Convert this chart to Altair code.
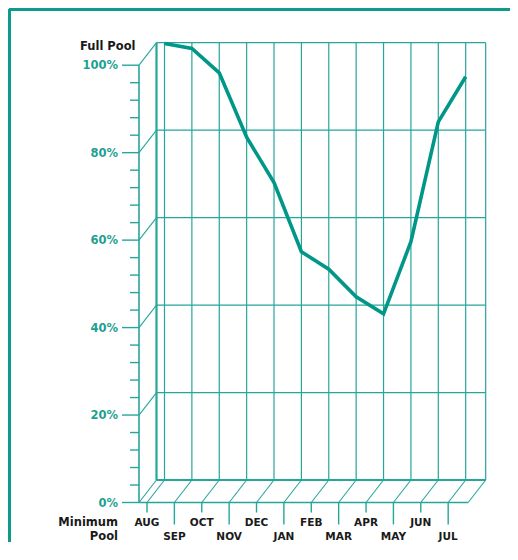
import altair as alt
import pandas as pd

# ---------------- data ----------------
months = ["AUG", "SEP", "OCT", "NOV", "DEC", "JAN", "FEB", "MAR", "APR", "MAY", "JUN", "JUL"]
pool_pct = [99.8, 98.7, 93.1, 78.4, 68.0, 52.2, 48.2, 41.9, 38.0, 54.5, 81.9, 92.2]
pct_ticks = [0, 20, 40, 60, 80, 100]
pct_labels = ["0%", "20%", "40%", "60%", "80%", "100%"]
minor_ticks = [v for v in range(0, 101, 4) if v % 20 != 0]
top_label = "Full Pool"
bottom_label = ["Minimum", "Pool"]

# ---------------- layout ----------------
W, H = 502, 534
X0_PX, X_STEP = 156.5, 27.38     # plot px of first month, px per month
Y0_PX, Y_STEP = 472.0, 4.373     # plot px of 0 %, px per percent


def ux(px):
    return px / X_STEP


def uy(px):
    return px / Y_STEP


XL = -ux(8)            # back plane left edge
XR = 11 + ux(20)       # back plane right edge
DX, DY = -ux(17.5), -uy(22.5)   # depth offset towards the front
FX = XL + DX           # front axis x

xs = alt.Scale(domain=[-X0_PX / X_STEP, (W - X0_PX) / X_STEP], nice=False, zero=False)
ys = alt.Scale(domain=[(Y0_PX - H) / Y_STEP, Y0_PX / Y_STEP], nice=False, zero=False)

TEAL = "#009688"
GRID = "#26a69a"
LABEL_TEAL = "#1e9f92"
INK = "#1a1a1a"
FONT = "DejaVu Sans"


def seg(rows):
    return pd.DataFrame(rows, columns=["x", "y", "x2", "y2"])


def rules(df, color, width):
    return alt.Chart(df).mark_rule(color=color, strokeWidth=width).encode(
        x=alt.X("x:Q", scale=xs, axis=None),
        y=alt.Y("y:Q", scale=ys, axis=None),
        x2="x2:Q",
        y2="y2:Q",
    )


# frame (left and top edges)
fx = (1.0 - X0_PX) / X_STEP
fy = (Y0_PX - 1.0) / Y_STEP
frame = seg([
    [fx, fy, fx, (Y0_PX - H) / Y_STEP],
    [fx, fy, (W - X0_PX) / X_STEP, fy],
])

grid_h = seg([[XL, p, XR, p] for p in pct_ticks if p != 0])
base_back = seg([[XL, 0, XR, 0]])
grid_v = seg([[i, 0, i, 100] for i in range(len(months))] + [[XR, 0, XR, 100]])
left_edge = seg([[XL, 0, XL, 100]])
diag_left = seg([[XL, p, XL + DX, p + DY] for p in pct_ticks])
diag_bottom = seg([[i, 0, i + DX, DY] for i in range(len(months))] + [[XR, 0, XR + DX, DY]])
front = seg([[FX, DY, FX, 100 + DY], [FX, DY, XR + DX, DY]])
major = seg([[FX - ux(17), p + DY, FX, p + DY] for p in pct_ticks])
minor = seg([[FX - ux(9), p + DY, FX, p + DY] for p in minor_ticks])
mticks = seg([[i + DX, DY, i + DX, DY - uy(10 if i % 2 == 0 else 22)] for i in range(len(months))])

line_df = pd.DataFrame({"i": list(range(len(months))), "pct": pool_pct, "month": months})
line = alt.Chart(line_df).mark_line(color=TEAL, strokeWidth=3.6, strokeJoin="miter").encode(
    x=alt.X("i:Q", scale=xs, axis=None),
    y=alt.Y("pct:Q", scale=ys, axis=None),
)

pct_df = pd.DataFrame({"x": [FX - ux(21)] * len(pct_ticks),
                       "y": [p + DY for p in pct_ticks], "t": pct_labels})
pct_text = alt.Chart(pct_df).mark_text(
    align="right", baseline="middle", font=FONT, fontSize=11.5, fontWeight="bold",
    color=LABEL_TEAL, dy=1,
).encode(x=alt.X("x:Q", scale=xs, axis=None), y=alt.Y("y:Q", scale=ys, axis=None), text="t:N")

row1 = DY - uy(20.5)
row2 = DY - uy(34.5)
mon_df = pd.DataFrame({
    "x": [i + DX for i in range(len(months))],
    "y": [row1 if i % 2 == 0 else row2 for i in range(len(months))],
    "t": months,
})
mon_text = alt.Chart(mon_df).mark_text(
    align="center", baseline="middle", font=FONT, fontSize=10.5, fontWeight="bold", color=INK,
).encode(x=alt.X("x:Q", scale=xs, axis=None), y=alt.Y("y:Q", scale=ys, axis=None), text="t:N")

side_df = pd.DataFrame({
    "x": [FX - ux(3.5), FX - ux(21), FX - ux(21)],
    "y": [100 + DY + uy(18.5), row1, row2],
    "t": [top_label] + bottom_label,
})
side_text = alt.Chart(side_df).mark_text(
    align="right", baseline="middle", font=FONT, fontSize=11.5, fontWeight="bold", color=INK,
).encode(x=alt.X("x:Q", scale=xs, axis=None), y=alt.Y("y:Q", scale=ys, axis=None), text="t:N")

chart = alt.layer(
    rules(frame, "#0f9a8c", 4),
    rules(grid_h, GRID, 1.2),
    rules(grid_v, GRID, 1.2),
    rules(left_edge, GRID, 2.2),
    rules(base_back, GRID, 2.2),
    rules(diag_left, GRID, 1.1),
    rules(diag_bottom, GRID, 1.1),
    rules(front, GRID, 1.6),
    rules(major, GRID, 1.4),
    rules(minor, GRID, 1.4),
    rules(mticks, GRID, 1.4),
    line,
    pct_text,
    mon_text,
    side_text,
).properties(
    width=W, height=H, padding=0, autosize=alt.AutoSizeParams(type="none"),
).configure_view(stroke=None)

chart.save("out.html", embed_options={"renderer": "svg", "actions": False})
